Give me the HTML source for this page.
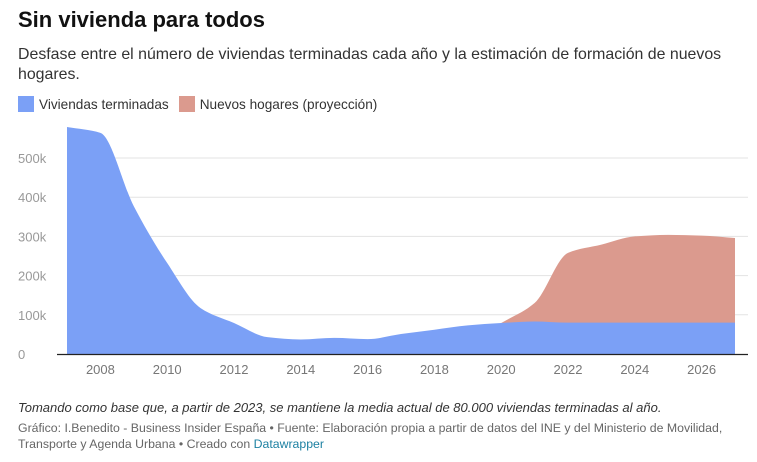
<!DOCTYPE html>
<html><head><meta charset="utf-8"><style>
body{margin:0;width:757px;height:462px;background:#fff;font-family:"Liberation Sans",sans-serif;overflow:hidden;position:relative}
.t{position:absolute;left:18px;}
</style></head><body>
<div class="t" style="top:7px;font-size:22px;font-weight:bold;color:#111">Sin vivienda para todos</div>
<div class="t" style="top:45px;width:730px;font-size:15.9px;line-height:20px;color:#333">Desfase entre el número de viviendas terminadas cada año y la estimación de formación de nuevos hogares.</div>
<div class="t" style="top:96px;font-size:13.6px;color:#333;display:flex;align-items:center">
<span style="display:flex;align-items:center"><span style="width:16px;height:16px;background:#7ba0f6;display:inline-block;margin-right:5px"></span>Viviendas terminadas</span>
<span style="display:flex;align-items:center;margin-left:10px"><span style="width:16px;height:16px;background:#db9a8e;display:inline-block;margin-right:5px"></span>Nuevos hogares (proyección)</span>
</div>
<svg id="c" width="757" height="400" style="position:absolute;left:0;top:0"></svg>
<div class="t" style="top:400px;font-size:13px;font-style:italic;color:#333">Tomando como base que, a partir de 2023, se mantiene la media actual de 80.000 viviendas terminadas al año.</div>
<div class="t" style="top:420px;width:725px;font-size:12.3px;line-height:16px;color:#666">Gráfico: I.Benedito - Business Insider España • Fuente: Elaboración propia a partir de datos del INE y del Ministerio de Movilidad, Transporte y Agenda Urbana • Creado con <span style="color:#1d81a2">Datawrapper</span></div>
<script>
const years=[2007,2008,2009,2010,2011,2012,2013,2014,2015,2016,2017,2018,2019,2020,2021,2022,2023,2024,2025,2026,2027];
const viviendas=[579000,564000,377000,232000,117000,79000,43000,37000,41000,38000,51000,62000,73000,79000,83000,80000,80000,80000,80000,80000,80000];
const hogaresYears=[2020,2021,2022,2023,2024,2025,2026,2027];
const hogares=[79000,130000,258000,279000,300000,304000,302000,296000];
const yTicks=[0,100000,200000,300000,400000,500000];
const yTickLabels=["0","100k","200k","300k","400k","500k"];
const xTicks=[2008,2010,2012,2014,2016,2018,2020,2022,2024,2026];
const X=y=>67+(y-2007)*(668/20);
const Y=v=>354-v*(196/500000);
const svg=document.getElementById('c');
const NS='http://www.w3.org/2000/svg';
function mk(t,a){const e=document.createElementNS(NS,t);for(const k in a)e.setAttribute(k,a[k]);svg.appendChild(e);return e;}
function mono(xs,ys){const n=xs.length,d=[],m=[];for(let i=0;i<n-1;i++)d.push((ys[i+1]-ys[i])/(xs[i+1]-xs[i]));
m[0]=d[0];m[n-1]=d[n-2];
for(let i=1;i<n-1;i++){if(d[i-1]*d[i]<=0)m[i]=0;else{const h0=xs[i]-xs[i-1],h1=xs[i+1]-xs[i];const w1=2*h1+h0,w2=h1+2*h0;m[i]=(w1+w2)/(w1/d[i-1]+w2/d[i]);}}
let p='M'+xs[0]+','+ys[0];for(let i=0;i<n-1;i++){const h=(xs[i+1]-xs[i])/3;p+=` C${xs[i]+h},${ys[i]+m[i]*h} ${xs[i+1]-h},${ys[i+1]-m[i+1]*h} ${xs[i+1]},${ys[i+1]}`;}return p;}
yTicks.forEach((v,i)=>{
 if(v>0){const g=mk('line',{x1:67,x2:748,y1:Y(v),y2:Y(v),stroke:'#e3e3e3','stroke-width':1});
 
 }
 const t=mk('text',{x:18,y:Y(v)+5,'font-size':13,fill:'#999','font-family':'Liberation Sans, sans-serif'});t.textContent=yTickLabels[i];
 
 
});
const hx=hogaresYears.map(X),hy=hogares.map(Y);
const red=mk('path',{d:mono(hx,hy)+` L${X(2027)},${Y(0)} L${X(2020)},${Y(0)} Z`,fill:'#db9a8e'});


const vx=years.map(X),vy=viviendas.map(Y);
const blue=mk('path',{d:mono(vx,vy)+` L${X(2027)},${Y(0)} L${X(2007)},${Y(0)} Z`,fill:'#7ba0f6'});


const ax=mk('line',{x1:57,x2:748,y1:354.5,y2:354.5,stroke:'#222','stroke-width':1.3});


xTicks.forEach(yr=>{const t=mk('text',{x:X(yr),y:374,'font-size':13,fill:'#777','text-anchor':'middle','font-family':'Liberation Sans, sans-serif'});t.textContent=yr;
 
 });
</script>
</body></html>
